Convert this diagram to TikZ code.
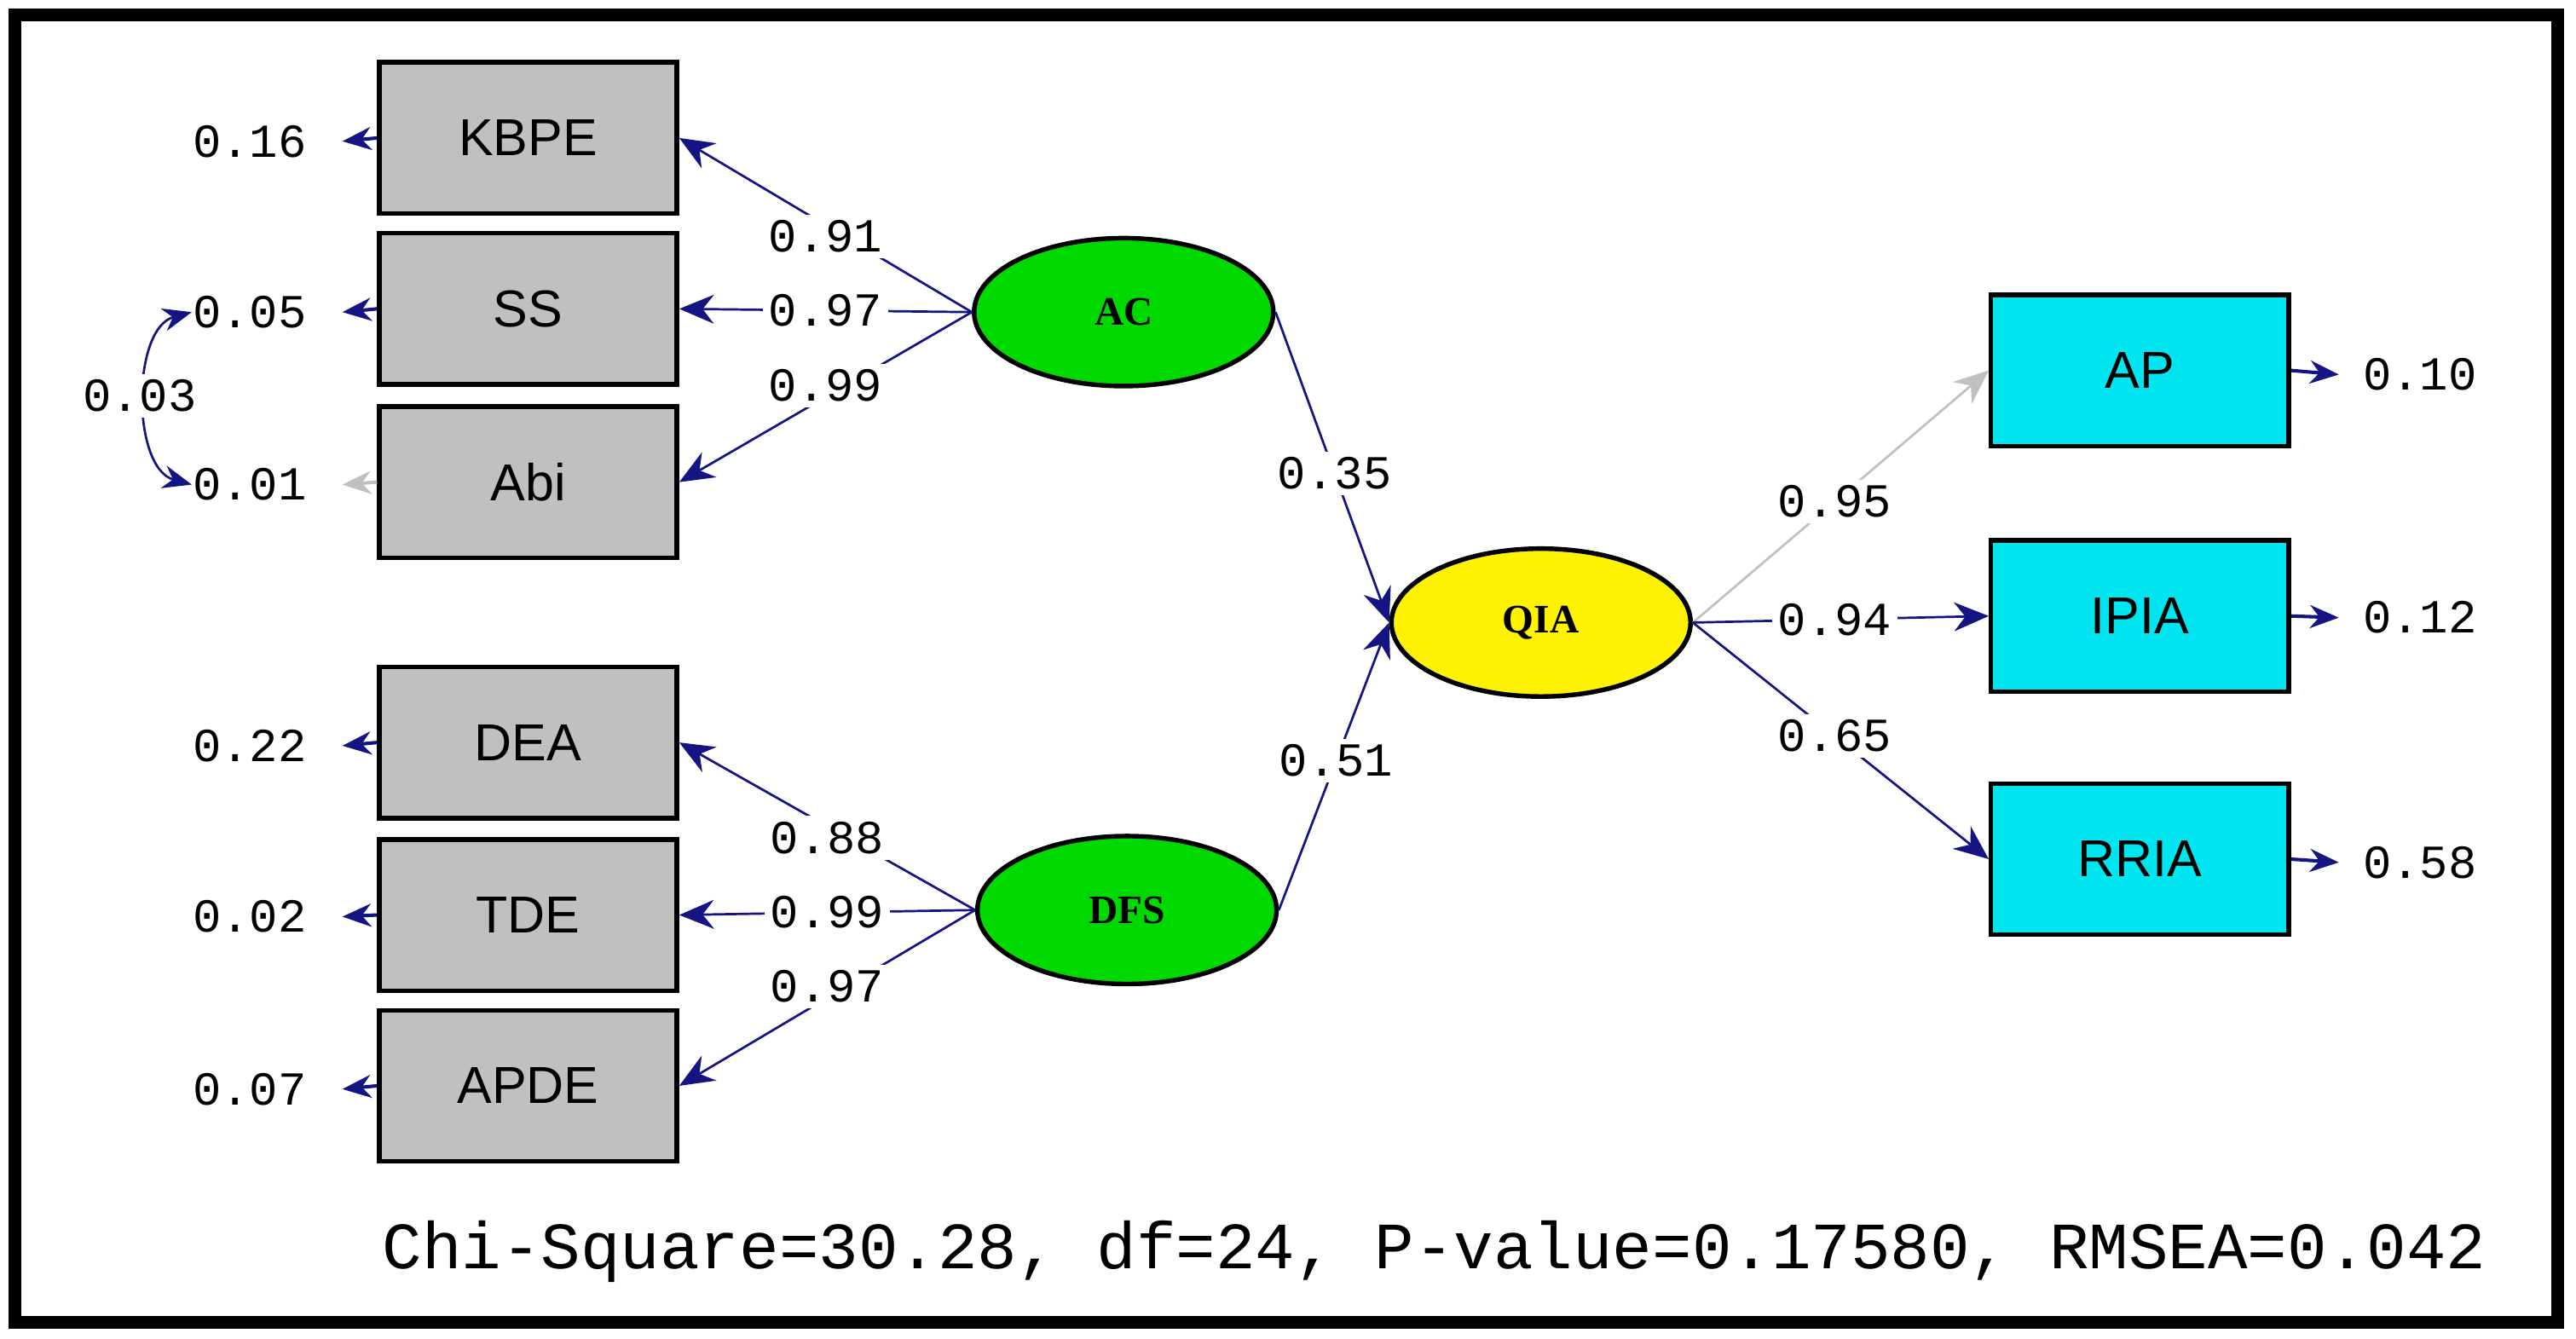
\documentclass[tikz,border=0pt]{standalone}
\usepackage{fontspec}
\setmainfont{Liberation Serif}
\setsansfont{Liberation Sans}
\setmonofont{Liberation Mono}
\usetikzlibrary{arrows.meta,shapes.geometric}
\definecolor{navy}{RGB}{20,20,130}
\definecolor{grayfill}{RGB}{192,192,192}
\definecolor{cyanfill}{RGB}{0,230,240}
\begin{document}
\begin{tikzpicture}[x=0.01cm,y=-0.01cm,
 obs/.style={draw=black,thick,minimum width=1.81cm,minimum height=0.92cm,inner sep=0,font=\sffamily\fontsize{9}{9}\selectfont},
 gbox/.style={obs,fill=grayfill},
 cbox/.style={obs,fill=cyanfill},
 lat/.style={ellipse,draw=black,thick,minimum width=1.82cm,minimum height=0.9cm,inner sep=0,font=\bfseries\fontsize{7}{7}\selectfont},
 num/.style={font=\ttfamily\fontsize{8.2}{8.2}\selectfont,inner sep=0},
 lbl/.style={num,fill=white,inner sep=1pt},
 arr/.style={draw=navy,-{Stealth[length=6pt,width=5pt]}},
 err/.style={draw=navy,line width=0.6pt,-{Stealth[length=5pt,width=4pt]}}]
\useasboundingbox (0,0) rectangle (1568,815);
\draw[line width=2.2pt] (9,9) rectangle (1557,805);
% boxes
\node[gbox] (KBPE) at (321.5,84) {KBPE};
\node[gbox] (SS) at (321.5,188) {SS};
\node[gbox] (Abi) at (321.5,293.5) {Abi};
\node[gbox] (DEA) at (321.5,452) {DEA};
\node[gbox] (TDE) at (321.5,557) {TDE};
\node[gbox] (APDE) at (321.5,661) {APDE};
\node[cbox] (AP) at (1302.5,225.5) {AP};
\node[cbox] (IPIA) at (1302.5,375) {IPIA};
\node[cbox] (RRIA) at (1302.5,523) {RRIA};
\node[lat,fill=green!85!black] (AC) at (684,190) {AC};
\node[lat,fill=green!85!black] (DFS) at (686,554) {DFS};
\node[lat,fill=yellow] (QIA) at (938,379) {QIA};
% error labels
\node[num] (eK) at (152,86) {0.16};
\node[num] (eS) at (152,190) {0.05};
\node[num] (eA) at (152,295) {0.01};
\node[num] (eD) at (152,454) {0.22};
\node[num] (eT) at (152,558) {0.02};
\node[num] (eP) at (152,663) {0.07};
\node[num] (eAP) at (1473,228) {0.10};
\node[num] (eIP) at (1473,376) {0.12};
\node[num] (eRR) at (1473,525) {0.58};
\foreach \b/\e in {KBPE/eK,SS/eS,DEA/eD,TDE/eT,APDE/eP}
  \draw[err] (\b.west) -- ([xshift=6pt]\e.east);
\draw[err,draw=grayfill] (Abi.west) -- ([xshift=6pt]eA.east);
\foreach \b/\e in {AP/eAP,IPIA/eIP,RRIA/eRR}
  \draw[err] (\b.east) -- ([xshift=-4pt]\e.west);
% covariance
\draw[navy,{Stealth[length=5pt,width=4pt]}-{Stealth[length=5pt,width=4pt]}] (eS.west) .. controls (80,200) and (80,285) .. (eA.west);
\node[lbl] at (85,241) {0.03};
% loadings
\draw[arr] (AC.west) -- (KBPE.east) node[lbl,pos=0.5,yshift=-2pt] {0.91};
\draw[arr] (AC.west) -- (SS.east) node[lbl,pos=0.5] {0.97};
\draw[arr] (AC.west) -- (Abi.east) node[lbl,pos=0.5,yshift=2pt] {0.99};
\draw[arr] (DFS.west) -- (DEA.east) node[lbl,pos=0.5,yshift=-2pt] {0.88};
\draw[arr] (DFS.west) -- (TDE.east) node[lbl,pos=0.5] {0.99};
\draw[arr] (DFS.west) -- (APDE.east) node[lbl,pos=0.5,yshift=2pt] {0.97};
\draw[arr] (AC.east) -- (QIA.west) node[lbl,pos=0.52] {0.35};
\draw[arr] (DFS.east) -- (QIA.west) node[lbl,pos=0.52] {0.51};
\draw[arr,draw=grayfill] (QIA.east) -- (AP.west) node[lbl,pos=0.48] {0.95};
\draw[arr] (QIA.east) -- (IPIA.west) node[lbl,pos=0.48] {0.94};
\draw[arr] (QIA.east) -- (RRIA.west) node[lbl,pos=0.48] {0.65};
\node[anchor=west,font=\ttfamily\fontsize{11.45}{11.45}\selectfont,inner sep=0] (fit) at (232,762) {Chi-Square=30.28, df=24, P-value=0.17580, RMSEA=0.042};
\end{tikzpicture}
\end{document}
